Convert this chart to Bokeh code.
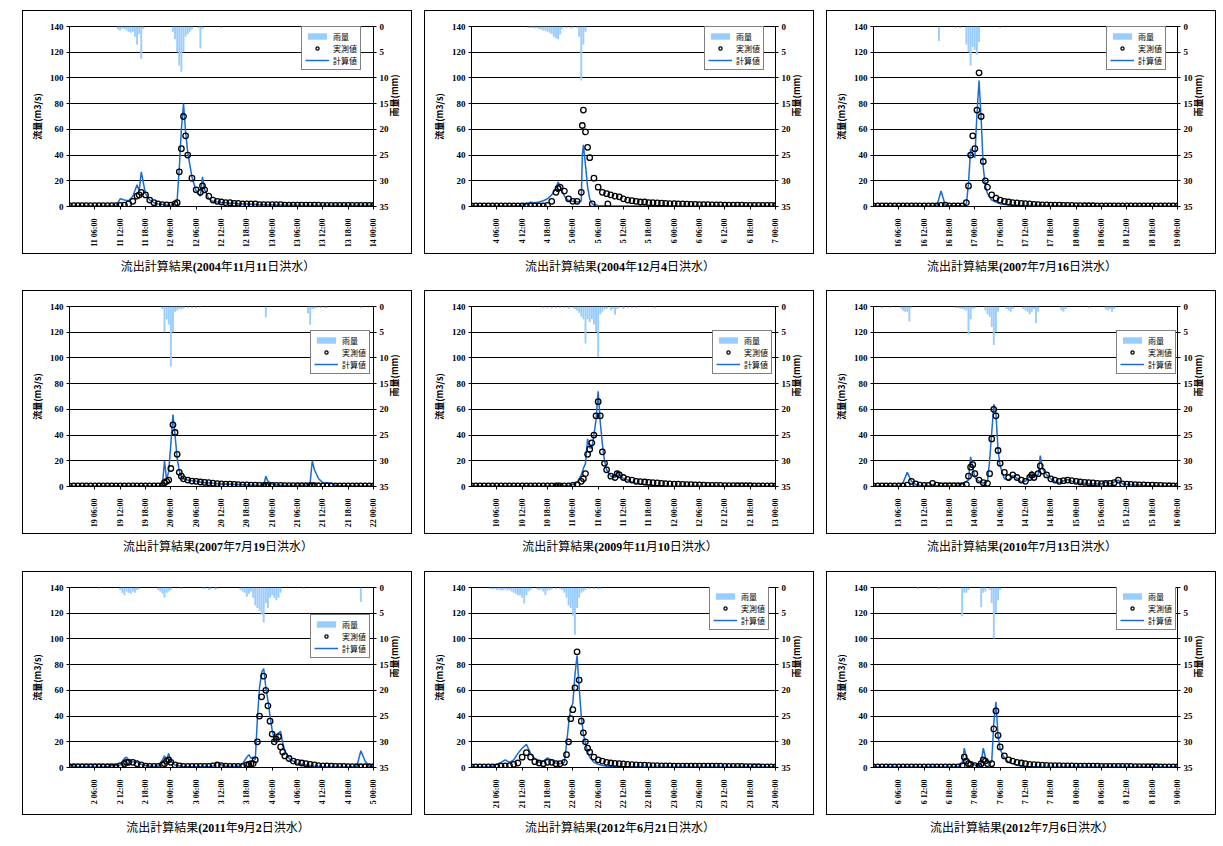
import math
import re
from bokeh.plotting import figure
from bokeh.models import Range1d, LinearAxis, FixedTicker, Legend, LegendItem, Div, Spacer
from bokeh.layouts import column, row
from bokeh.embed import file_html
from bokeh.resources import INLINE

TITLES = [
    "流出計算結果(2004年11月11日洪水）",
    "流出計算結果(2004年12月4日洪水）",
    "流出計算結果(2007年7月16日洪水）",
    "流出計算結果(2007年7月19日洪水）",
    "流出計算結果(2009年11月10日洪水）",
    "流出計算結果(2010年7月13日洪水）",
    "流出計算結果(2011年9月2日洪水）",
    "流出計算結果(2012年6月21日洪水）",
    "流出計算結果(2012年7月6日洪水）",
]
START_DAYS = [11, 4, 16, 19, 10, 13, 2, 21, 6]
X_TICKS = [6, 12, 18, 24, 30, 36, 42, 48, 54, 60, 66, 72]
Q_TICKS = [0, 20, 40, 60, 80, 100, 120, 140]
R_TICKS = [0, 5, 10, 15, 20, 25, 30, 35]
LEGEND_LABELS = ["雨量", "実測値", "計算値"]

# ---------- hourly flows (m3/s), hour 0..72 ----------
P1_CALC = [0.4,0.4,0.4,0.4,0.4,0.4,0.4,0.4,0.4,0.4,0.4,0.5,
           6,5,4.5,8,17,27,10,5,3,2,1.5,1,
           0.8,3,30,80,42,23,12,8,13,6,4,3.5,
           3,3,2.5,2.5,2,2,2,1.8,1.5,1.2,1.2,1.2,
           1.2,1,1,1,0.9,0.9,0.8,0.8,0.8,0.8,0.8,0.8,
           0.7,0.7,0.7,0.7,0.7,0.7,0.7,0.7,0.7,0.7,0.7,0.7,
           0.7]
P1_OBS = [0.7,0.7,0.7,0.7,0.7,0.7,0.7,0.7,0.7,0.7,0.7,0.7,
          0.8,1,2,4,8,11,9,5,3,2,1.5,1.2,
          1,2,27,70,40,22,13,11,13,8,5,4,
          3.5,3,3,2.5,2.5,2,2,2,2,1.5,1.5,1.5,
          1.5,1.5,1.5,1,1,1,1,1,1,1,1,1,
          0.8,0.8,0.8,0.8,0.8,0.8,0.8,0.8,0.8,0.8,0.8,0.8,
          0.8]
P1_XT = [16.5, 25.5, 26.5, 27.5, 31.5]
P1_XCALC = [12, 5, 60, 58, 23]
P1_XOBS = [9, 3, 45, 55, 16]
P1_RAIN_T = [11.5,12,12.5,13,13.5,14,14.5,15,15.5,16,16.5,17,17.5,
             24.5,25,25.5,26,26.5,27,27.5,28,28.5,29,30.5,31,31.5,36]
P1_RAIN = [0.6,0.8,0.4,0.5,0.8,1.0,1.2,1.0,2.0,3.5,1.5,6.3,0.5,
           1.0,2.5,5.0,7.6,8.8,5.0,2.0,1.5,1.0,0.6,0.3,4.3,0.5,0.3]

P2_CALC = [0.3,0.3,0.3,0.3,0.3,0.3,0.3,0.3,0.3,0.3,0.3,0.5,
           1,2,3.3,3,3.5,4.5,6,9,14,16,8,4.5,
           4,3.5,4,32,6,1.5,0.8,0.6,0.5,0.4,0.4,0.3,
           0.3,0.3,0.3,0.3,0.3,0.3,0.3,0.3,0.3,0.3,0.3,0.3,
           0.3,0.3,0.3,0.3,0.3,0.3,0.3,0.3,0.3,0.3,0.3,0.3,
           0.3,0.3,0.3,0.3,0.3,0.3,0.3,0.3,0.3,0.3,0.3,0.3,
           0.3]
P2_OBS = [0.5,0.5,0.5,0.5,0.5,0.5,0.5,0.5,0.5,0.5,0.5,0.5,
          0.5,0.5,0.5,0.5,0.5,0.5,0.8,4,11,15,12,6,
          4,4,11,58,38,22,15,11,10,9,8,7.5,
          6,5,4.5,4,3.5,3.5,3,3,2.8,2.6,2.5,2.3,
          2.2,2.1,2,1.8,1.7,1.6,1.5,1.5,1.4,1.3,1.2,1.2,
          1.1,1,1,1,1,0.9,0.9,0.9,0.8,0.8,0.8,0.8,
          0.8]
P2_XT = [20.5, 26.25, 26.5, 27.5, 28.6, 32.3]
P2_XCALC = [19, 40, 48, 15, 2, 0.5]
P2_XOBS = [14, 63, 75, 46, 2, 2]
P2_RAIN_T = [13.5,14,14.5,15,15.5,16,16.5,17,17.5,18,18.5,19,19.5,20,20.5,21,21.5,
             22.5,23.5,24,25,25.5,26,26.5,27]
P2_RAIN = [0.3,0.3,0.3,0.4,0.3,0.5,0.6,0.8,0.8,1.0,1.2,1.5,2.0,2.3,2.5,1.5,0.5,
           0.3,0.4,0.3,0.3,2.0,10.5,3.5,1.0]

P3_CALC = [0.3,0.3,0.3,0.3,0.3,0.3,0.3,0.3,0.3,0.3,0.3,0.3,
           0.3,0.3,0.3,0.5,12,1,0.5,0.5,0.5,0.5,2,45,
           38,98,30,10,5,3.5,2,1.5,1.2,1,1,0.8,
           0.8,0.8,0.8,0.8,0.7,0.6,0.5,0.5,0.5,0.5,0.4,0.4,
           0.3,0.3,0.3,0.3,0.3,0.3,0.3,0.3,0.3,0.3,0.3,0.3,
           0.3,0.3,0.3,0.3,0.3,0.3,0.3,0.3,0.3,0.3,0.3,0.3,
           0.3]
P3_OBS = [0.5,0.5,0.5,0.5,0.5,0.5,0.5,0.5,0.5,0.5,0.5,0.5,
          0.5,0.5,0.5,0.5,0.8,1,0.5,0.5,0.5,0.5,3,40,
          45,104,35,15,9,6.5,5,4,3.5,3,2.8,2.5,
          2.2,2,1.7,1.5,1.3,1.2,1.1,1,1,0.9,0.8,0.8,
          0.7,0.7,0.6,0.6,0.6,0.5,0.5,0.5,0.5,0.5,0.5,0.5,
          0.5,0.5,0.5,0.5,0.5,0.5,0.5,0.5,0.5,0.5,0.5,0.5,
          0.5]
P3_XT = [22.5, 23.5, 24.5, 25.5, 26.5]
P3_XCALC = [18, 40, 72, 68, 16]
P3_XOBS = [16, 55, 75, 70, 20]
P3_RAIN_T = [15.5, 19.5, 20.5, 22, 22.5, 23, 23.5, 24, 24.5, 25, 30]
P3_RAIN = [2.8, 0.3, 0.3, 3.5, 5.0, 7.6, 4.0, 4.5, 5.5, 3.0, 0.3]

P4_CALC = [0.3,0.3,0.3,0.3,0.3,0.3,0.3,0.3,0.3,0.3,0.3,0.3,
           0.3,0.3,0.3,0.3,0.3,0.3,0.3,0.3,0.3,0.3,1,5,
           33,40,12,6,5,4.5,4,3.5,3,3,2.5,2.2,
           2,2,1.8,1.6,1.5,1.3,1.2,1,1,0.8,0.8,4,
           2,1.2,1,0.8,0.8,0.8,0.8,0.8,1,3,13,6,
           3,3,2.5,1,0.6,0.5,0.4,0.3,0.3,0.3,0.3,0.3,
           0.3]
P4_OBS = [0.5,0.5,0.5,0.5,0.5,0.5,0.5,0.5,0.5,0.5,0.5,0.5,
          0.5,0.5,0.5,0.5,0.5,0.5,0.5,0.5,0.5,0.5,0.8,4,
          14,42,11,6,5,4.2,4,3.5,3.2,3,2.6,2.3,
          2,1.9,1.8,1.6,1.5,1.3,1.2,1.1,1,0.8,0.8,0.8,
          0.8,0.8,0.8,0.7,0.7,0.7,0.6,0.6,0.6,0.6,0.6,0.6,
          0.5,0.5,0.5,0.5,0.5,0.5,0.5,0.5,0.5,0.5,0.5,0.5,
          0.5]
P4_XT = [22.5, 23.5, 24.5, 25.5, 26.5, 46.5, 57.5]
P4_XCALC = [20, 12, 56, 22, 8, 8, 20]
P4_XOBS = [3, 5, 48, 25, 8, 0.8, 0.6]
P4_RAIN_T = [22, 22.5, 23, 23.5, 24, 24.5, 25, 25.5, 26, 26.5, 27, 28, 29, 30, 31,
             46.5, 56.5, 57, 57.5, 58, 58.5, 59.5, 60.5, 61, 69]
P4_RAIN = [0.5, 5.0, 2.5, 3.5, 11.6, 5.0, 1.0, 0.8, 0.5, 0.6, 0.4, 0.3, 0.3, 0.3, 0.2,
           2.1, 1.3, 3.6, 0.5, 0.4, 0.3, 0.3, 0.3, 0.3, 0.3]

P5_CALC = [0.3,0.3,0.3,0.3,0.3,0.3,0.3,0.3,0.3,0.3,0.3,0.3,
           0.3,0.3,0.3,0.3,0.3,0.3,0.3,0.3,0.5,0.5,0.5,0.8,
           1.5,3,9,18,30,40,74,33,13,8,7,9,
           6,5,3.5,2.5,2,1.6,1.2,0.8,0.5,0.5,0.4,0.4,
           0.3,0.3,0.3,0.3,0.3,0.3,0.3,0.3,0.3,0.3,0.3,0.3,
           0.3,0.3,0.3,0.3,0.3,0.3,0.3,0.3,0.3,0.3,0.3,0.3,
           0.3]
P5_OBS = [0.5,0.5,0.5,0.5,0.5,0.5,0.5,0.5,0.5,0.5,0.5,0.5,
          0.5,0.5,0.5,0.5,0.5,0.5,0.5,0.5,0.5,0.5,0.5,0.5,
          0.8,1.5,4,10,29,40,66,27,13,8,7,9,
          7,5.5,5,4,3.8,3.5,3.2,3,2.8,2.5,2.2,2,
          1.9,1.8,1.7,1.5,1.4,1.3,1.2,1,0.9,0.8,0.8,0.8,
          0.7,0.7,0.7,0.6,0.6,0.6,0.6,0.5,0.5,0.5,0.5,0.5,
          0.5]
P5_XT = [20.5, 26.5, 27.5, 28.5, 29.5, 30.5, 31.5, 34.5]
P5_XCALC = [2, 14, 37, 30, 52, 50, 20, 12]
P5_XOBS = [0.5, 6, 25, 34, 55, 55, 18, 10]
P5_RAIN_T = [17, 18, 19, 20, 21, 22, 23, 24, 24.5, 25, 25.5, 26, 26.5, 27, 27.5, 28,
             28.5, 29, 29.5, 30, 30.5, 31, 31.5, 32, 33, 33.5, 34, 34.5, 35, 36, 37,
             38, 39, 43.5]
P5_RAIN = [0.3, 0.3, 0.4, 0.3, 0.3, 0.3, 0.5, 0.3, 0.5, 0.8, 1.2, 2.0, 2.5, 7.2, 2.5, 3.0,
           2.5, 3.5, 5.0, 9.8, 1.5, 1.0, 0.6, 0.5, 0.8, 0.5, 1.6, 0.5, 0.3, 0.5, 0.3,
           0.3, 0.3, 0.3]

P6_CALC = [0.3,0.3,0.3,0.3,0.3,0.3,0.5,3,11,4,1.5,0.8,
           0.5,0.5,1.5,0.5,0.3,0.3,0.3,0.3,1,2,4,23,
           7,4,2.5,4,42,57,16,6,5,8.5,6.5,3.5,
           4,8,7,9,14,9,6,4,3,4.5,5.5,4,
           3,2.5,2.5,2.2,2,2,2,3.5,2,3.5,5,2,
           1.5,1.2,1,1,0.8,0.6,0.5,0.5,0.4,0.4,0.3,0.3,
           0.3]
P6_OBS = [0.5,0.5,0.5,0.5,0.5,0.5,0.5,0.5,1,4,2,1,
          0.8,0.8,2.5,1,0.6,0.6,0.6,0.6,0.6,0.6,1.5,15,
          10,5,3,2.5,37,55,18,11,7,9,7,5,
          4,7,7,10,12,9,6,5,4,4.5,5,4.5,
          4,3.5,3.2,3,2.8,2.5,2.2,2.5,2.5,3,5,2,
          1.8,1.6,1.5,1.3,1.2,1,1,0.8,0.8,0.7,0.6,0.5,
          0.5]
P6_XT = [22.5, 23.5, 27.5, 28.5, 29.5, 37.5, 39.5]
P6_XCALC = [5, 15, 20, 64, 28, 12, 24]
P6_XOBS = [8, 17, 10, 60, 28, 9, 16]
P6_RAIN_T = [2, 4, 6.5, 7, 7.5, 8, 8.5, 9,
             19.5, 20, 20.5, 21, 21.5, 22, 22.5, 23, 23.5, 24,
             26.5, 27, 27.5, 28, 28.5, 29, 29.5,
             31.5, 32, 32.5, 33,
             35.5, 36, 36.5, 37, 37.5, 38, 38.5, 39,
             44.5, 45, 45.5, 51, 55, 55.5, 56, 56.5, 57]
P6_RAIN = [0.3, 0.3, 0.4, 0.8, 1.0, 1.0, 2.9, 0.3,
           0.3, 0.3, 0.4, 0.5, 0.6, 0.8, 5.4, 2.5, 0.5, 0.3,
           0.8, 1.5, 2.0, 4.0, 7.5, 5.0, 1.0,
           0.5, 0.8, 1.0, 0.5,
           0.5, 0.8, 1.0, 1.5, 1.0, 0.5, 3.2, 1.0,
           0.8, 1.0, 0.5, 0.3, 0.6, 0.8, 0.5, 1.0, 0.5]

P7_CALC = [2.5,1,0.5,0.3,0.3,0.3,0.3,0.3,0.3,0.5,1.5,1.5,
           2,7,6,4.5,4,2.5,1.5,1,0.8,0.8,6,6,
           5,2,1.2,0.8,0.5,0.5,0.5,0.5,0.5,0.5,1,4,
           2,1,0.8,0.8,0.8,3,8,7,6,62,77,52,
           29,20,28,13,7,5,3,2.5,2,1.5,1,0.8,
           0.5,0.3,0.3,0.3,0.3,0.3,0.3,0.3,0.3,13,5,1,
           0.5]
P7_OBS = [0.6,0.6,0.6,0.6,0.6,0.6,0.6,0.6,0.6,0.6,0.6,0.6,
          1.5,3,4,4,3,2,1,0.8,0.8,0.8,2,5,
          4,2,1.2,0.8,0.8,0.8,0.8,0.8,0.8,0.8,1.2,2,
          1.5,1,0.8,0.8,0.8,0.8,2,3,6,40,71,48,
          26,22,16,9,7,5,4,3.5,3,2.5,2,1.5,
          1.3,1.2,1,0.8,0.8,0.8,0.7,0.7,0.6,0.6,0.6,0.6,
          0.6]
P7_XT = [13.5, 22.5, 23.5, 42.5, 43.5, 44.5, 45.5, 46.5, 47.5, 48.5, 49.5, 50.5]
P7_XCALC = [8, 9, 11, 10, 8, 38, 74, 62, 40, 22, 27, 19]
P7_XOBS = [4, 3, 6, 2.5, 3, 20, 55, 60, 36, 20, 24, 12]
P7_RAIN_T = [0, 7, 12, 12.5, 13, 13.5, 14, 14.5, 15, 15.5, 16, 16.5,
             21, 21.5, 22, 22.5, 23, 23.5, 24, 26.5,
             31.5, 32, 33, 33.5, 34.5, 35,
             40.5, 41, 41.5, 42, 42.5, 43, 43.5, 44, 44.5, 45, 45.5, 46, 46.5, 47,
             47.5, 48, 48.5, 49, 49.5, 50, 55.5, 69]
P7_RAIN = [0.3, 0.2, 0.5, 1.0, 1.5, 0.8, 1.0, 1.2, 0.8, 1.0, 0.5, 0.3,
           0.5, 0.8, 1.2, 2.0, 1.0, 0.8, 0.5, 0.3,
           0.3, 0.3, 0.5, 0.3, 0.4, 0.3,
           0.5, 0.8, 1.0, 1.8, 1.2, 0.8, 2.0, 3.5, 4.0, 4.5, 5.3, 6.8, 3.0, 4.0,
           2.0, 1.5, 2.0, 2.5, 2.0, 1.0, 0.3, 2.8]

P8_CALC = [0.3,0.3,0.3,0.3,0.5,1,2.5,4,6,4,6,11,
           15,18,11,7,4,5,7.5,5.5,3.5,3,4,34,
           50,87,40,19,8,4,2.5,1.6,1,0.8,0.6,0.5,
           0.5,0.5,0.5,0.5,0.5,0.4,0.4,0.3,0.3,0.3,0.3,0.3,
           0.3,0.3,0.3,0.3,0.3,0.3,0.3,0.3,0.3,0.3,0.3,0.3,
           0.3,0.3,0.3,0.3,0.3,0.3,0.3,0.3,0.3,0.3,0.3,0.3,
           0.3]
P8_OBS = [0.5,0.5,0.5,0.5,0.5,0.5,0.5,1,1.2,1.5,2.5,3.5,
          8,11.5,8,4.5,3.5,3,4,4,3,3,4,20,
          45,90,36,20,12,8,6,5,4,3.5,3.2,3,
          2.8,2.5,2.2,2,1.9,1.8,1.6,1.5,1.4,1.3,1.2,1.2,
          1.1,1.1,1,1,1,1,1,1,1,1,1,1,
          0.9,0.9,0.8,0.8,0.8,0.7,0.7,0.6,0.6,0.5,0.5,0.5,
          0.5]
P8_XT = [22.5, 23.5, 24.5, 25.5, 26.5, 27.5]
P8_XCALC = [18, 46, 72, 62, 26, 12]
P8_XOBS = [10, 38, 62, 68, 27, 15]
P8_RAIN_T = [4.5, 5, 5.5, 6, 6.5, 7, 7.5, 8, 8.5, 9, 9.5, 10, 10.5, 11, 11.5, 12, 12.5, 13,
             13.5, 14, 15.5, 16, 16.5, 17, 17.5, 18, 18.5, 19, 20, 21,
             21.5, 22, 22.5, 23, 23.5, 24, 24.5, 25, 25.5, 26, 26.5, 27, 28, 29, 30, 30.5]
P8_RAIN = [0.3, 0.4, 0.3, 0.5, 0.4, 0.6, 0.5, 0.4, 0.6, 0.5, 0.8, 1.0, 1.2, 1.5, 1.5, 2.0, 3.1, 1.5,
           0.8, 0.5, 0.3, 0.5, 0.4, 0.8, 1.5, 0.6, 0.5, 0.4, 0.3, 0.3,
           0.5, 1.0, 2.0, 3.5, 4.0, 5.5, 9.2, 4.0, 2.0, 1.0, 0.8, 0.5, 0.3, 0.3, 0.3, 0.3]

P9_CALC = [0.3,0.3,0.3,0.3,0.3,0.3,0.3,0.3,0.3,0.3,0.3,0.3,
           0.3,0.3,0.3,0.3,0.3,0.3,0.3,0.3,0.3,3,8,4,
           2,1,15,4,4,51,14,7.5,4,3,1.8,1,
           0.8,0.6,0.5,0.5,0.4,0.4,0.3,0.3,0.3,0.3,0.3,0.3,
           0.3,0.3,0.3,0.3,0.3,0.3,0.3,0.3,0.3,0.3,0.3,0.3,
           0.3,0.3,0.3,0.3,0.3,0.3,0.3,0.3,0.3,0.3,0.3,0.3,
           0.3]
P9_OBS = [0.5,0.5,0.5,0.5,0.5,0.5,0.5,0.5,0.5,0.5,0.5,0.5,
          0.5,0.5,0.5,0.5,0.5,0.5,0.5,0.5,0.5,1.5,5,2.5,
          1.5,1,6,3,3,44,16,9,6,5,4,3.5,
          3,2.5,2.2,2,1.8,1.7,1.5,1.5,1.4,1.3,1.2,1.2,
          1.1,1.1,1,1,1,1,0.9,0.9,0.9,0.8,0.8,0.8,
          0.8,0.8,0.7,0.7,0.7,0.6,0.6,0.6,0.5,0.5,0.5,0.5,
          0.5]
P9_XT = [21.5, 22.5, 25.5, 26.5, 28.5, 29.5]
P9_XCALC = [15, 5, 4, 8, 35, 25]
P9_XOBS = [8, 3, 3, 5, 30, 25]
P9_RAIN_T = [10.5, 15.5, 21, 21.5, 22, 22.5, 25.5, 26, 26.5, 27.5, 28, 28.5, 29, 29.5, 30]
P9_RAIN = [0.3, 0.3, 5.6, 1.0, 1.0, 0.5, 3.8, 1.0, 0.8, 0.5, 3.0, 9.9, 5.0, 2.5, 0.5]

PANELS = [
    (P1_CALC, P1_OBS, P1_XT, P1_XCALC, P1_XOBS, P1_RAIN_T, P1_RAIN),
    (P2_CALC, P2_OBS, P2_XT, P2_XCALC, P2_XOBS, P2_RAIN_T, P2_RAIN),
    (P3_CALC, P3_OBS, P3_XT, P3_XCALC, P3_XOBS, P3_RAIN_T, P3_RAIN),
    (P4_CALC, P4_OBS, P4_XT, P4_XCALC, P4_XOBS, P4_RAIN_T, P4_RAIN),
    (P5_CALC, P5_OBS, P5_XT, P5_XCALC, P5_XOBS, P5_RAIN_T, P5_RAIN),
    (P6_CALC, P6_OBS, P6_XT, P6_XCALC, P6_XOBS, P6_RAIN_T, P6_RAIN),
    (P7_CALC, P7_OBS, P7_XT, P7_XCALC, P7_XOBS, P7_RAIN_T, P7_RAIN),
    (P8_CALC, P8_OBS, P8_XT, P8_XCALC, P8_XOBS, P8_RAIN_T, P8_RAIN),
    (P9_CALC, P9_OBS, P9_XT, P9_XCALC, P9_XOBS, P9_RAIN_T, P9_RAIN),
]

# ---------- layout / style constants ----------
W, H = 390, 244
ML, MR, MT, MB = 46, 40, 15, 49
FW, FH = W - ML - MR, H - MT - MB
LEG_W, LEG_H = 58, 42
LEGEND_GAPS = [(14, 2), (13, 2), (13, 2), (5, 26), (5, 26), (3, 26), (5, 29), (8, 1), (3, 1)]
BLUE = "#1a6dd4"
RAIN_COLOR = "#99ccff"


def merge(hourly, xt, xv):
    pts = [(float(i), v) for i, v in enumerate(hourly)] + [(float(t), v) for t, v in zip(xt, xv)]
    pts.sort(key=lambda p: p[0])
    return [p[0] for p in pts], [p[1] for p in pts]


def style_axis(ax, size):
    ax.axis_line_color = "black"
    ax.axis_line_width = 1
    ax.major_tick_line_color = "black"
    ax.major_tick_in = 0
    ax.major_tick_out = 3
    ax.minor_tick_line_color = None
    ax.major_label_text_font = "Liberation Serif"
    ax.major_label_text_font_style = "bold"
    ax.major_label_text_font_size = size
    ax.major_label_text_color = "black"
    ax.axis_label_text_font = "Noto Sans CJK JP"
    ax.axis_label_text_font_style = "bold"
    ax.axis_label_text_font_size = "9px"
    ax.axis_label_text_color = "black"
    ax.axis_label_standoff = 3


def make_panel(i):
    calc, obs, xt, xcalc, xobs, rt, rv = PANELS[i]
    tc, qc = merge(calc, xt, xcalc)
    to, qo = merge(obs, xt, xobs)
    p = figure(width=W, height=H, output_backend="svg", toolbar_location=None,
               x_range=Range1d(0, 72), y_range=Range1d(0, 140),
               min_border_left=ML, min_border_right=MR,
               min_border_top=MT, min_border_bottom=MB)
    p.styles = {"border": "1px solid black"}
    p.extra_y_ranges = {"rain": Range1d(35, 0)}
    p.background_fill_color = "white"
    p.border_fill_color = "white"
    p.outline_line_color = "black"
    p.xgrid.visible = False
    p.ygrid.ticker = FixedTicker(ticks=Q_TICKS)
    p.ygrid.grid_line_color = "black"
    p.ygrid.grid_line_width = 1

    xax = p.xaxis[0]
    xax.ticker = FixedTicker(ticks=X_TICKS)
    xax.major_label_overrides = {
        h: f"{START_DAYS[i] + h // 24} {h % 24:02d}:00" for h in X_TICKS
    }
    style_axis(xax, "8px")
    xax.major_label_orientation = math.pi / 2
    xax.major_label_standoff = 9

    lax = p.yaxis[0]
    lax.ticker = FixedTicker(ticks=Q_TICKS)
    lax.axis_label = "流量(m3/s)"
    style_axis(lax, "9px")
    lax.major_label_standoff = 3

    rax = LinearAxis(y_range_name="rain", ticker=FixedTicker(ticks=R_TICKS), axis_label="雨量(mm)")
    style_axis(rax, "9px")
    rax.major_label_standoff = 3
    try:
        rax.axis_label_orientation = math.pi / 2
    except Exception:
        pass
    p.add_layout(rax, "right")

    r_rain = p.vbar(x=rt, top=rv, bottom=0, width=0.45, y_range_name="rain",
                    fill_color=RAIN_COLOR, line_color=None)
    r_calc = p.line(tc, qc, line_color=BLUE, line_width=1.5)
    r_obs = p.scatter(to, qo, marker="circle", size=5.5, line_color="black",
                      line_width=1.3, fill_color=None)

    gr, gt = LEGEND_GAPS[i]
    leg = Legend(items=[LegendItem(label=LEGEND_LABELS[0], renderers=[r_rain]),
                        LegendItem(label=LEGEND_LABELS[1], renderers=[r_obs]),
                        LegendItem(label=LEGEND_LABELS[2], renderers=[r_calc])],
                 location=(FW - gr - LEG_W, FH - gt - LEG_H),
                 border_line_color="black", border_line_width=1,
                 background_fill_color="white", background_fill_alpha=1,
                 label_text_font="Noto Sans CJK JP", label_text_font_size="8px",
                 label_text_color="black",
                 glyph_width=24, glyph_height=8, label_height=12, label_standoff=4,
                 spacing=0, padding=3, margin=0)
    p.add_layout(leg)
    return p


def title_div(i, h):
    html = re.sub(r"([\x00-\x7f]+)", r"<b>\1</b>", TITLES[i])
    text = ('<div style="width:392px;text-align:center;font-family:\'Liberation Serif\','
            '\'Noto Sans CJK JP\',serif;font-size:12px;line-height:14px;margin-top:6px;color:black;">'
            + html + '</div>')
    return Div(text=text, width=392, height=h, margin=(0, 0, 0, 0))


DIV_H = [36, 37, 24]
rows = []
for r in range(3):
    cells = []
    for c in range(3):
        i = r * 3 + c
        cells.append(column(make_panel(i), title_div(i, DIV_H[r])))
    rows.append(row(Spacer(width=22), cells[0], Spacer(width=10), cells[1],
                    Spacer(width=10), cells[2]))

layout = column(Spacer(height=10), *rows)

with open("out.html", "w") as f:
    f.write(file_html(layout, INLINE))
